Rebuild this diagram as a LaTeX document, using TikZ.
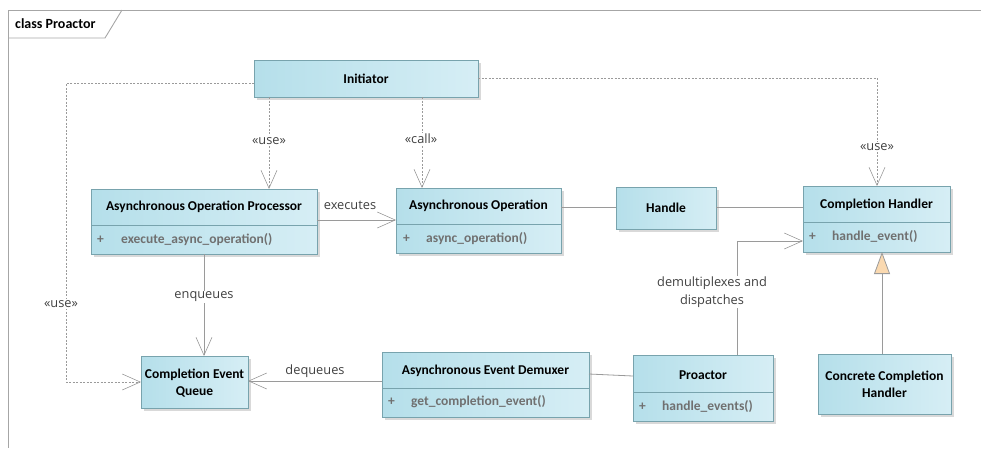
\documentclass[tikz,border=0pt]{standalone}
\usepackage{fontspec}
\setmainfont{Carlito}
\newfontfamily\labelfont{Open Sans}
\usetikzlibrary{arrows.meta,shadows,calc}
\definecolor{boxL}{HTML}{B5DFEA}
\definecolor{boxR}{HTML}{D6EEF5}
\definecolor{boxB}{HTML}{78A3AD}
\definecolor{shad}{HTML}{D9D9D9}
\definecolor{conn}{HTML}{9A9A9A}
\definecolor{meth}{HTML}{707070}
\definecolor{lbl}{HTML}{404040}
\definecolor{framec}{HTML}{A6A6A6}
\definecolor{genfill}{HTML}{FAD9B0}
\begin{document}
\begin{tikzpicture}[x=1pt,y=-1pt,
 cls/.style={draw=boxB, line width=0.8pt, left color=boxL, right color=boxR,
   inner sep=0pt, outer sep=0pt, anchor=north west,
   drop shadow={shadow xshift=3pt,shadow yshift=-3pt,fill=shad,opacity=1}},
 ttl/.style={font=\fontsize{13.5}{17}\selectfont\bfseries, text=black, align=center, inner sep=0pt},
 mth/.style={font=\fontsize{13.5}{15}\selectfont\bfseries, text=meth, anchor=west, inner sep=0pt},
 lab/.style={font=\labelfont\fontsize{12.8}{18}\selectfont, text=lbl, fill=white, inner sep=1pt, align=center},
 divl/.style={draw=boxB, line width=0.8pt},
 tip/.style={-{Straight Barb[length=18pt,width=16pt,line width=0.6pt]}},
 dep/.style={draw=conn, line width=0.6pt, dash pattern=on 2pt off 1.5pt, tip},
 asc/.style={draw=conn, line width=0.8pt, tip},
 plainc/.style={draw=conn, line width=0.8pt},
 genl/.style={draw=conn, line width=0.8pt, -{Triangle[length=22pt,width=16pt,fill=genfill]}}
]
\useasboundingbox (0,0) rectangle (981,448);
% frame
\draw[framec, line width=0.9pt] (981,10) -- (8,10) -- (8,448);
\draw[framec, line width=0.9pt] (8,38) -- (105,38) -- (122,10);
\node[font=\fontsize{14}{16}\selectfont\bfseries, anchor=west, inner sep=0pt] (frametitle) at (15,24) {class Proactor};

% classes
\node[cls, minimum width=224pt, minimum height=37pt] (init) at (254,60) {};
\node[ttl] (init-t) at (366,79) {Initiator};

\node[cls, minimum width=226pt, minimum height=65pt] (apo) at (91,189) {};
\draw[divl] (apo.west |- 0,225) -- (apo.east |- 0,225);
\node[ttl] (apo-t) at (204,207) {Asynchronous Operation Processor};
\node[mth] (apo-p) at (97,240) {+};
\node[mth] (apo-m) at (121,240) {execute\_async\_operation()};

\node[cls, minimum width=165pt, minimum height=65pt] (aop) at (396,188) {};
\draw[divl] (aop.west |- 0,224) -- (aop.east |- 0,224);
\node[ttl] (aop-t) at (478.5,206) {Asynchronous Operation};
\node[mth] (aop-p) at (403,239) {+};
\node[mth] (aop-m) at (426,239) {async\_operation()};

\node[cls, minimum width=100pt, minimum height=42pt] (handle) at (616,187) {};
\node[ttl] (handle-t) at (666,208) {Handle};

\node[cls, minimum width=147pt, minimum height=66pt] (ch) at (803,186) {};
\draw[divl] (ch.west |- 0,222) -- (ch.east |- 0,222);
\node[ttl] (ch-t) at (876.5,205) {Completion Handler};
\node[mth] (ch-p) at (809,237) {+};
\node[mth] (ch-m) at (832,237) {handle\_event()};

\node[cls, minimum width=133pt, minimum height=60pt] (cch) at (818,354) {};
\node[ttl] (cch-t) at (884.5,384) {Concrete Completion\\Handler};

\node[cls, minimum width=140pt, minimum height=66pt] (proactor) at (633,355) {};
\draw[divl] (proactor.west |- 0,392) -- (proactor.east |- 0,392);
\node[ttl] (proactor-t) at (703,375) {Proactor};
\node[mth] (proactor-p) at (639,407) {+};
\node[mth] (proactor-m) at (662,407) {handle\_events()};

\node[cls, minimum width=207pt, minimum height=65pt] (aed) at (382,352) {};
\draw[divl] (aed.west |- 0,388) -- (aed.east |- 0,388);
\node[ttl] (aed-t) at (485.5,371) {Asynchronous Event Demuxer};
\node[mth] (aed-p) at (388,402) {+};
\node[mth] (aed-m) at (411,402) {get\_completion\_event()};

\node[cls, minimum width=107pt, minimum height=52pt] (ceq) at (141,356) {};
\node[ttl] (ceq-t) at (194.5,383) {Completion Event\\Queue};

% connectors
\draw[dep] (init.west |- 0,83) -- (66,83) -- (66,382) -- (ceq.west |- 0,382);
\draw[dep] (init.south -| 269,0) -- (apo.north -| 269,0);
\draw[dep] (init.south -| 422,0) -- (aop.north -| 422,0);
\draw[dep] (init.east |- 0,78) -- (877,78) -- (ch.north -| 877,0);
\draw[asc] (apo.east |- 0,220) -- (aop.west |- 0,220);
\draw[plainc] (aop.east |- 0,207) -- (handle.west |- 0,207);
\draw[plainc] (handle.east |- 0,207) -- (ch.west |- 0,207);
\draw[asc] (apo.south -| 204,0) -- (ceq.north -| 204,0);
\draw[asc] (aed.west |- 0,381) -- (ceq.east |- 0,381);
\draw[plainc] (aed.east |- 0,374) -- (proactor.west |- 0,376);
\draw[asc] (proactor.north -| 737,0) -- (737,241) -- (ch.west |- 0,241);
\draw[genl] (cch.north -| 882,0) -- (ch.south -| 882,0);

% labels
\node[lab] (l-use1) at (61,304) {«use»};
\node[lab] (l-use2) at (269,141) {«use»};
\node[lab] (l-call) at (421,139) {«call»};
\node[lab] (l-use3) at (877,147) {«use»};
\node[lab] (l-exec) at (350,205) {executes};
\node[lab] (l-enq) at (204,297) {enqueues};
\node[lab] (l-deq) at (315,371) {dequeues};
\node[lab] (l-dem) at (712,292) {demultiplexes and\\dispatches};
\end{tikzpicture}
\end{document}
